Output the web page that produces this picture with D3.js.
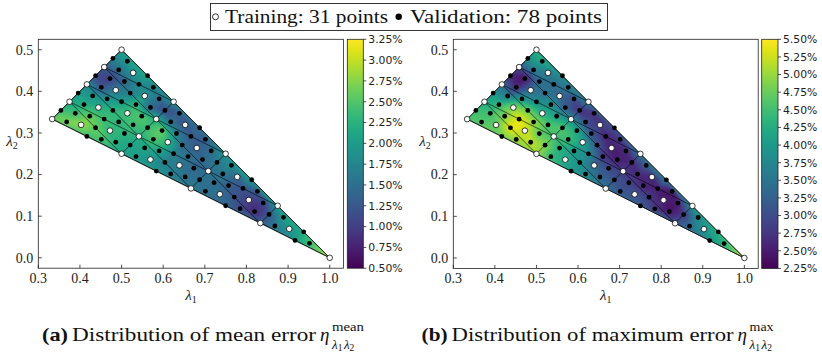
<!DOCTYPE html>
<html><head><meta charset="utf-8">
<script src="https://cdn.jsdelivr.net/npm/d3@7"></script>
<style>body{margin:0;background:#fff} svg{display:block}</style>
</head><body>
<svg id="chart" width="822" height="357"></svg>
<script>
// ---------------- data ----------------
const nodeL1 = [0.3333,0.375,0.4167,0.4583,0.5,0.5,0.5417,0.5833,0.625,0.6667,0.7083,0.75,0.8333,0.875,1.0];
const nodeL2 = [0.3333,0.375,0.4167,0.4583,0.5,0.25,0.2917,0.3333,0.375,0.1667,0.2083,0.25,0.0833,0.125,0.0];
const meshLines = [[0,1,2,3,4],[5,6,7,8],[9,10,11],[12,13],[0,5,9,12,14],[1,6,10,13],[2,7,11],[3,8],[1,5],[2,6,9],[3,7,10,12],[4,8,11,13,14]];
const domainNodes = [0,4,14];

const trainL1 = [0.3333,0.375,0.4167,0.4583,0.5,0.5,0.5417,0.5833,0.625,0.6667,0.7083,0.75,0.8333,0.875,1.0,
  0.4028,0.4444,0.4861,0.5278,0.5694,0.6111,0.6528,0.7361,0.7778,0.9028,
  0.4722,0.5139,0.5556,0.6389,0.6806,0.8056];
const trainL2 = [0.3333,0.375,0.4167,0.4583,0.5,0.25,0.2917,0.3333,0.375,0.1667,0.2083,0.25,0.0833,0.125,0.0,
  0.3194,0.3611,0.4028,0.4444,0.2361,0.2778,0.3194,0.1528,0.1944,0.0694,
  0.3056,0.3472,0.3889,0.2222,0.2639,0.1389];

const valL1 = [0.3542,0.3958,0.4375,0.4792,0.5208,0.5625,0.6042,0.6875,0.7292,0.8542,
  0.4167,0.4583,0.5,0.5417,0.5833,0.625,0.6667,0.75,0.7917,0.9167,
  0.4375,0.4792,0.5208,0.5625,0.6042,0.6458,0.6875,0.7708,0.8125,0.9375,
  0.3681,0.3889,0.4514, 0.4097,0.4306,0.4931, 0.4514,0.4722,0.5347, 0.4931,0.5139,0.5764,
  0.5347,0.5556,0.6181, 0.5764,0.5972,0.6597, 0.6181,0.6389,0.7014, 0.7014,0.7222,0.7847,
  0.7431,0.7639,0.8264, 0.8681,0.8889,0.9514,
  0.4236,0.4861,0.5069, 0.4653,0.5278,0.5486, 0.5069,0.5694,0.5903, 0.5903,0.6528,0.6736,
  0.6319,0.6944,0.7153, 0.7569,0.8194,0.8403];
const valL2 = [0.3542,0.3958,0.4375,0.4792,0.2708,0.3125,0.3542,0.1875,0.2292,0.1042,
  0.2917,0.3333,0.375,0.4167,0.2083,0.25,0.2917,0.125,0.1667,0.0417,
  0.3125,0.3542,0.3958,0.4375,0.2292,0.2708,0.3125,0.1458,0.1875,0.0625,
  0.3264,0.3472,0.2847, 0.3681,0.3889,0.3264, 0.4097,0.4306,0.3681, 0.4514,0.4722,0.4097,
  0.2431,0.2639,0.2014, 0.2847,0.3056,0.2431, 0.3264,0.3472,0.2847, 0.1597,0.1806,0.1181,
  0.2014,0.2222,0.1597, 0.0764,0.0972,0.0347,
  0.3403,0.2778,0.2986, 0.3819,0.3194,0.3403, 0.4236,0.3611,0.3819, 0.2569,0.1944,0.2153,
  0.2986,0.2361,0.2569, 0.1736,0.1111,0.1319];

// mean error (%) at training / validation points
const meanTrain = [2.6,2.1,1.8,1.3,2.0,2.1,2.2,2.2,1.8,1.6,1.5,1.9,1.3,2.0,2.9,
  2.8,2.2,1.6,1.9,1.9,2.3,1.2,1.5,1.4,1.9,
  2.3,2.4,1.9,1.6,1.3,1.0];
const meanVal = [2.4,2.0,1.1,1.7,2.1,2.4,1.1,1.5,1.6,1.2,
  2.4,2.4,2.0,1.8,1.9,1.7,1.3,1.4,1.2,2.0,
  2.6,2.3,1.7,2.1,1.7,1.5,1.5,1.2,2.0,2.2,
  2.7,2.4,2.5, 2.2,1.9,2.3, 1.2,1.0,2.3, 1.5,2.0,1.7,
  2.0,2.1,1.7, 2.5,2.6,1.5, 1.5,1.3,1.3, 1.5,1.5,1.1,
  1.6,1.8,1.3, 1.6,2.0,2.4,
  2.6,2.2,2.3, 1.9,2.4,2.5, 1.4,1.4,1.5, 2.1,1.5,1.4,
  1.7,1.4,1.5, 1.3,0.8,1.0];
// maximum error (%)
const maxTrain = [4.6,4.2,3.4,3.0,4.3,5.0,4.5,3.8,3.6,3.4,2.8,3.5,3.1,3.9,5.1,
  4.7,4.9,3.4,3.6,4.2,4.1,2.8,3.1,2.6,3.9,
  5.3,4.3,3.3,3.3,2.5,2.5];
const maxVal = [4.5,3.9,2.6,3.9,4.9,4.6,2.7,3.1,2.6,2.8,
  4.8,5.4,3.8,3.4,4.0,3.8,2.6,3.2,2.5,3.9,
  5.4,4.8,3.5,3.8,3.9,3.1,3.0,2.8,3.6,4.3,
  4.6,4.5,5.0, 4.4,3.6,5.0, 2.6,2.4,3.9, 3.6,4.2,3.6,
  4.4,4.3,3.8, 4.5,4.2,2.8, 3.0,2.7,2.8, 3.1,2.9,2.8,
  2.6,3.2,2.4, 3.4,3.8,4.3,
  4.9,5.2,4.7, 4.0,4.6,4.1, 3.4,3.2,3.0, 4.0,3.3,3.0,
  3.1,2.5,2.6, 2.6,2.4,2.5];

const xTicks = [0.3,0.4,0.5,0.6,0.7,0.8,0.9,1.0];
const yTicks = [0.0,0.1,0.2,0.3,0.4,0.5];
const meanTicks = [0.5,0.75,1.0,1.25,1.5,1.75,2.0,2.25,2.5,2.75,3.0,3.25];
const maxTicks = [2.25,2.5,2.75,3.0,3.25,3.5,3.75,4.0,4.25,4.5,4.75,5.0,5.25,5.5];
const legendLabels = ["Training: 31 points","Validation: 78 points"];

// ---------------- layout ----------------
const SERIF = "Liberation Serif, DejaVu Serif, serif";
const SANS = "DejaVu Sans, sans-serif";
const xDomain = [0.3, 1.0333], yDomain = [-0.025, 0.525];
const panels = [
  {x0:38.3, x1:343.6, y0:268.2, y1:39.3, cb0:347.3, cb1:363.3, cdom:[0.5,3.25], ticks:meanTicks, train:meanTrain, val:meanVal, ylabX:12},
  {x0:453.3, x1:758.2, y0:268.4, y1:39.3, cb0:761.7, cb1:778.0, cdom:[2.25,5.5], ticks:maxTicks, train:maxTrain, val:maxVal, ylabX:425}
];

const svg = d3.select('#chart');
const defs = svg.append('defs');
const allL1 = trainL1.concat(valL1), allL2 = trainL2.concat(valL2);

panels.forEach((p, pi) => {
  const xs = d3.scaleLinear().domain(xDomain).range([p.x0, p.x1]);
  const ys = d3.scaleLinear().domain(yDomain).range([p.y0, p.y1]);
  const color = d3.scaleSequential(d3.interpolateViridis).domain(p.cdom);
  const vals = p.train.concat(p.val);
  const g = svg.append('g');

  // ---- field (Gouraud shading on Delaunay triangulation) ----
  const pts = allL1.map((l, i) => [xs(l), ys(allL2[i])]);
  const del = d3.Delaunay.from(pts);
  const T = del.triangles;
  const bx0 = Math.floor(p.x0), by0 = Math.floor(p.y1);
  const w = Math.ceil(p.x1) - bx0, h = Math.ceil(p.y0) - by0;
  const cv = document.createElement('canvas'); cv.width = w; cv.height = h;
  const ctx = cv.getContext('2d');
  const img = ctx.createImageData(w, h);
  const best = new Float32Array(w * h).fill(-1e9);
  for (let t = 0; t < T.length; t += 3) {
    const a = T[t], b = T[t+1], c = T[t+2];
    const [x1,y1] = pts[a], [x2,y2] = pts[b], [x3,y3] = pts[c];
    const det = (y2-y3)*(x1-x3) + (x3-x2)*(y1-y3);
    if (Math.abs(det) < 0.5) continue;
    const mnx = Math.max(0, Math.floor(Math.min(x1,x2,x3) - bx0 - 4));
    const mxx = Math.min(w-1, Math.ceil(Math.max(x1,x2,x3) - bx0 + 4));
    const mny = Math.max(0, Math.floor(Math.min(y1,y2,y3) - by0 - 4));
    const mxy = Math.min(h-1, Math.ceil(Math.max(y1,y2,y3) - by0 + 4));
    for (let py = mny; py <= mxy; py++) for (let px = mnx; px <= mxx; px++) {
      const cx = bx0 + px + 0.5, cy = by0 + py + 0.5;
      const l1 = ((y2-y3)*(cx-x3) + (x3-x2)*(cy-y3)) / det;
      const l2 = ((y3-y1)*(cx-x3) + (x1-x3)*(cy-y3)) / det;
      const l3 = 1 - l1 - l2;
      const m = Math.min(l1, l2, l3);
      if (m < -0.4) continue;
      const k = py * w + px;
      if (m <= best[k]) continue;
      best[k] = m;
      let v = l1*vals[a] + l2*vals[b] + l3*vals[c];
      v = Math.max(p.cdom[0], Math.min(p.cdom[1], v));
      const col = d3.rgb(color(v));
      img.data[4*k] = col.r; img.data[4*k+1] = col.g; img.data[4*k+2] = col.b; img.data[4*k+3] = 255;
    }
  }
  ctx.putImageData(img, 0, 0);
  const cv2 = document.createElement('canvas'); cv2.width = w; cv2.height = h;
  const ctx2 = cv2.getContext('2d');
  ctx2.filter = 'blur(1.8px)';
  ctx2.drawImage(cv, 0, 0);
  const domPath = d3.line()(domainNodes.map(i => [xs(nodeL1[i]), ys(nodeL2[i])])) + 'Z';
  defs.append('clipPath').attr('id', 'clip' + pi).append('path').attr('d', domPath);
  g.append('image').attr('x', bx0).attr('y', by0).attr('width', w).attr('height', h)
    .attr('preserveAspectRatio', 'none').attr('href', cv2.toDataURL()).attr('clip-path', `url(#clip${pi})`);

  // ---- mesh ----
  meshLines.forEach(L => {
    g.append('path').attr('d', d3.line()(L.map(i => [xs(nodeL1[i]), ys(nodeL2[i])])))
      .attr('fill', 'none').attr('stroke', '#000').attr('stroke-width', 0.6);
  });
  g.append('path').attr('d', domPath).attr('fill', 'none').attr('stroke', '#000').attr('stroke-width', 0.7);

  // ---- points ----
  g.selectAll('.val').data(valL1).enter().append('circle')
    .attr('cx', d => xs(d)).attr('cy', (d, i) => ys(valL2[i])).attr('r', 2.4).attr('fill', '#000');
  g.selectAll('.tr').data(trainL1).enter().append('circle')
    .attr('cx', d => xs(d)).attr('cy', (d, i) => ys(trainL2[i])).attr('r', 2.8)
    .attr('fill', '#fff').attr('stroke', '#000').attr('stroke-width', 0.75);

  // ---- frame & ticks ----
  g.append('rect').attr('x', p.x0).attr('y', p.y1).attr('width', p.x1 - p.x0).attr('height', p.y0 - p.y1)
    .attr('fill', 'none').attr('stroke', '#222').attr('stroke-width', 0.8);
  xTicks.forEach(t => {
    const X = xs(t);
    g.append('line').attr('x1', X).attr('x2', X).attr('y1', p.y0).attr('y2', p.y0 - 3.5).attr('stroke', '#222').attr('stroke-width', 0.8);
    g.append('text').attr('x', X).attr('y', p.y0 + 15).attr('text-anchor', 'middle')
      .attr('font-family', SERIF).attr('font-size', 14).attr('fill', '#222').text(t.toFixed(1));
  });
  yTicks.forEach(t => {
    const Y = ys(t);
    g.append('line').attr('x1', p.x0).attr('x2', p.x0 + 3.5).attr('y1', Y).attr('y2', Y).attr('stroke', '#222').attr('stroke-width', 0.8);
    g.append('text').attr('x', p.x0 - 5).attr('y', Y + 4.8).attr('text-anchor', 'end')
      .attr('font-family', SERIF).attr('font-size', 14).attr('fill', '#222').text(t.toFixed(1));
  });
  const xl = g.append('text').attr('x', (p.x0 + p.x1) / 2).attr('y', 300).attr('text-anchor', 'middle')
    .attr('font-family', SERIF).attr('font-size', 15).attr('fill', '#222');
  xl.append('tspan').attr('font-style', 'italic').text('λ');
  xl.append('tspan').attr('font-size', 10).attr('dy', 3).text('1');
  const yl = g.append('text').attr('x', p.ylabX).attr('y', 146).attr('text-anchor', 'middle')
    .attr('font-family', SERIF).attr('font-size', 15).attr('fill', '#222');
  yl.append('tspan').attr('font-style', 'italic').text('λ');
  yl.append('tspan').attr('font-size', 10).attr('dy', 3).text('2');

  // ---- colorbar ----
  const gid = 'grad' + pi;
  const grad = defs.append('linearGradient').attr('id', gid).attr('x1', 0).attr('y1', 1).attr('x2', 0).attr('y2', 0);
  d3.range(0, 1.0001, 0.05).forEach(f => grad.append('stop').attr('offset', f).attr('stop-color', d3.interpolateViridis(f)));
  g.append('rect').attr('x', p.cb0).attr('y', p.y1).attr('width', p.cb1 - p.cb0).attr('height', p.y0 - p.y1)
    .attr('fill', `url(#${gid})`).attr('stroke', '#222').attr('stroke-width', 0.8);
  const cs = d3.scaleLinear().domain(p.cdom).range([p.y0, p.y1]);
  p.ticks.forEach(t => {
    const Y = cs(t);
    g.append('line').attr('x1', p.cb1).attr('x2', p.cb1 + 3).attr('y1', Y).attr('y2', Y).attr('stroke', '#222').attr('stroke-width', 0.8);
    g.append('text').attr('x', p.cb1 + 5).attr('y', Y + 3.9).attr('font-family', SANS).attr('font-size', 10.8)
      .attr('fill', '#222').text(t.toFixed(2) + '%');
  });
});

// ---------------- legend ----------------
const lg = svg.append('g');
lg.append('rect').attr('x', 210.5).attr('y', 3.5).attr('width', 397).attr('height', 27)
  .attr('fill', '#fff').attr('stroke', '#222').attr('stroke-width', 0.9);
lg.append('circle').attr('cx', 215.5).attr('cy', 16.8).attr('r', 3).attr('fill', '#fff').attr('stroke', '#000').attr('stroke-width', 0.8);
lg.append('text').attr('x', 225).attr('y', 22.6).attr('font-family', SERIF).attr('font-size', 18).attr('fill', '#111')
  .attr('textLength', 163).attr('lengthAdjust', 'spacingAndGlyphs').text(legendLabels[0]);
lg.append('circle').attr('cx', 398.7).attr('cy', 16.8).attr('r', 3.2).attr('fill', '#000');
lg.append('text').attr('x', 410).attr('y', 22.6).attr('font-family', SERIF).attr('font-size', 18).attr('fill', '#111')
  .attr('textLength', 192).attr('lengthAdjust', 'spacingAndGlyphs').text(legendLabels[1]);

// ---------------- captions ----------------
function caption(x, tag, body, bodyLen, sup, supLen) {
  const c = svg.append('g').attr('font-family', SERIF).attr('fill', '#111');
  c.append('text').attr('x', x).attr('y', 341).attr('font-size', 19).attr('font-weight', 'bold')
    .attr('textLength', 26).attr('lengthAdjust', 'spacingAndGlyphs').text(tag);
  c.append('text').attr('x', x + 30).attr('y', 341).attr('font-size', 19)
    .attr('textLength', bodyLen).attr('lengthAdjust', 'spacingAndGlyphs').text(body);
  const ex = x + 30 + bodyLen + 4;
  c.append('text').attr('x', ex).attr('y', 341).attr('font-size', 19).attr('font-style', 'italic').text('η');
  c.append('text').attr('x', ex + 12).attr('y', 331).attr('font-size', 13)
    .attr('textLength', supLen).attr('lengthAdjust', 'spacingAndGlyphs').text(sup);
  const s = c.append('text').attr('x', ex + 12).attr('y', 349).attr('font-size', 13);
  s.append('tspan').attr('font-style', 'italic').text('λ');
  s.append('tspan').attr('font-size', 9.5).attr('dy', 2).text('1');
  s.append('tspan').attr('font-style', 'italic').attr('dx', 1.5).attr('dy', -2).text('λ');
  s.append('tspan').attr('font-size', 9.5).attr('dy', 2).text('2');
}
caption(42, '(a)', 'Distribution of mean error', 244, 'mean', 32);
caption(421.6, '(b)', 'Distribution of maximum error', 282, 'max', 24);
</script>
</body></html>
